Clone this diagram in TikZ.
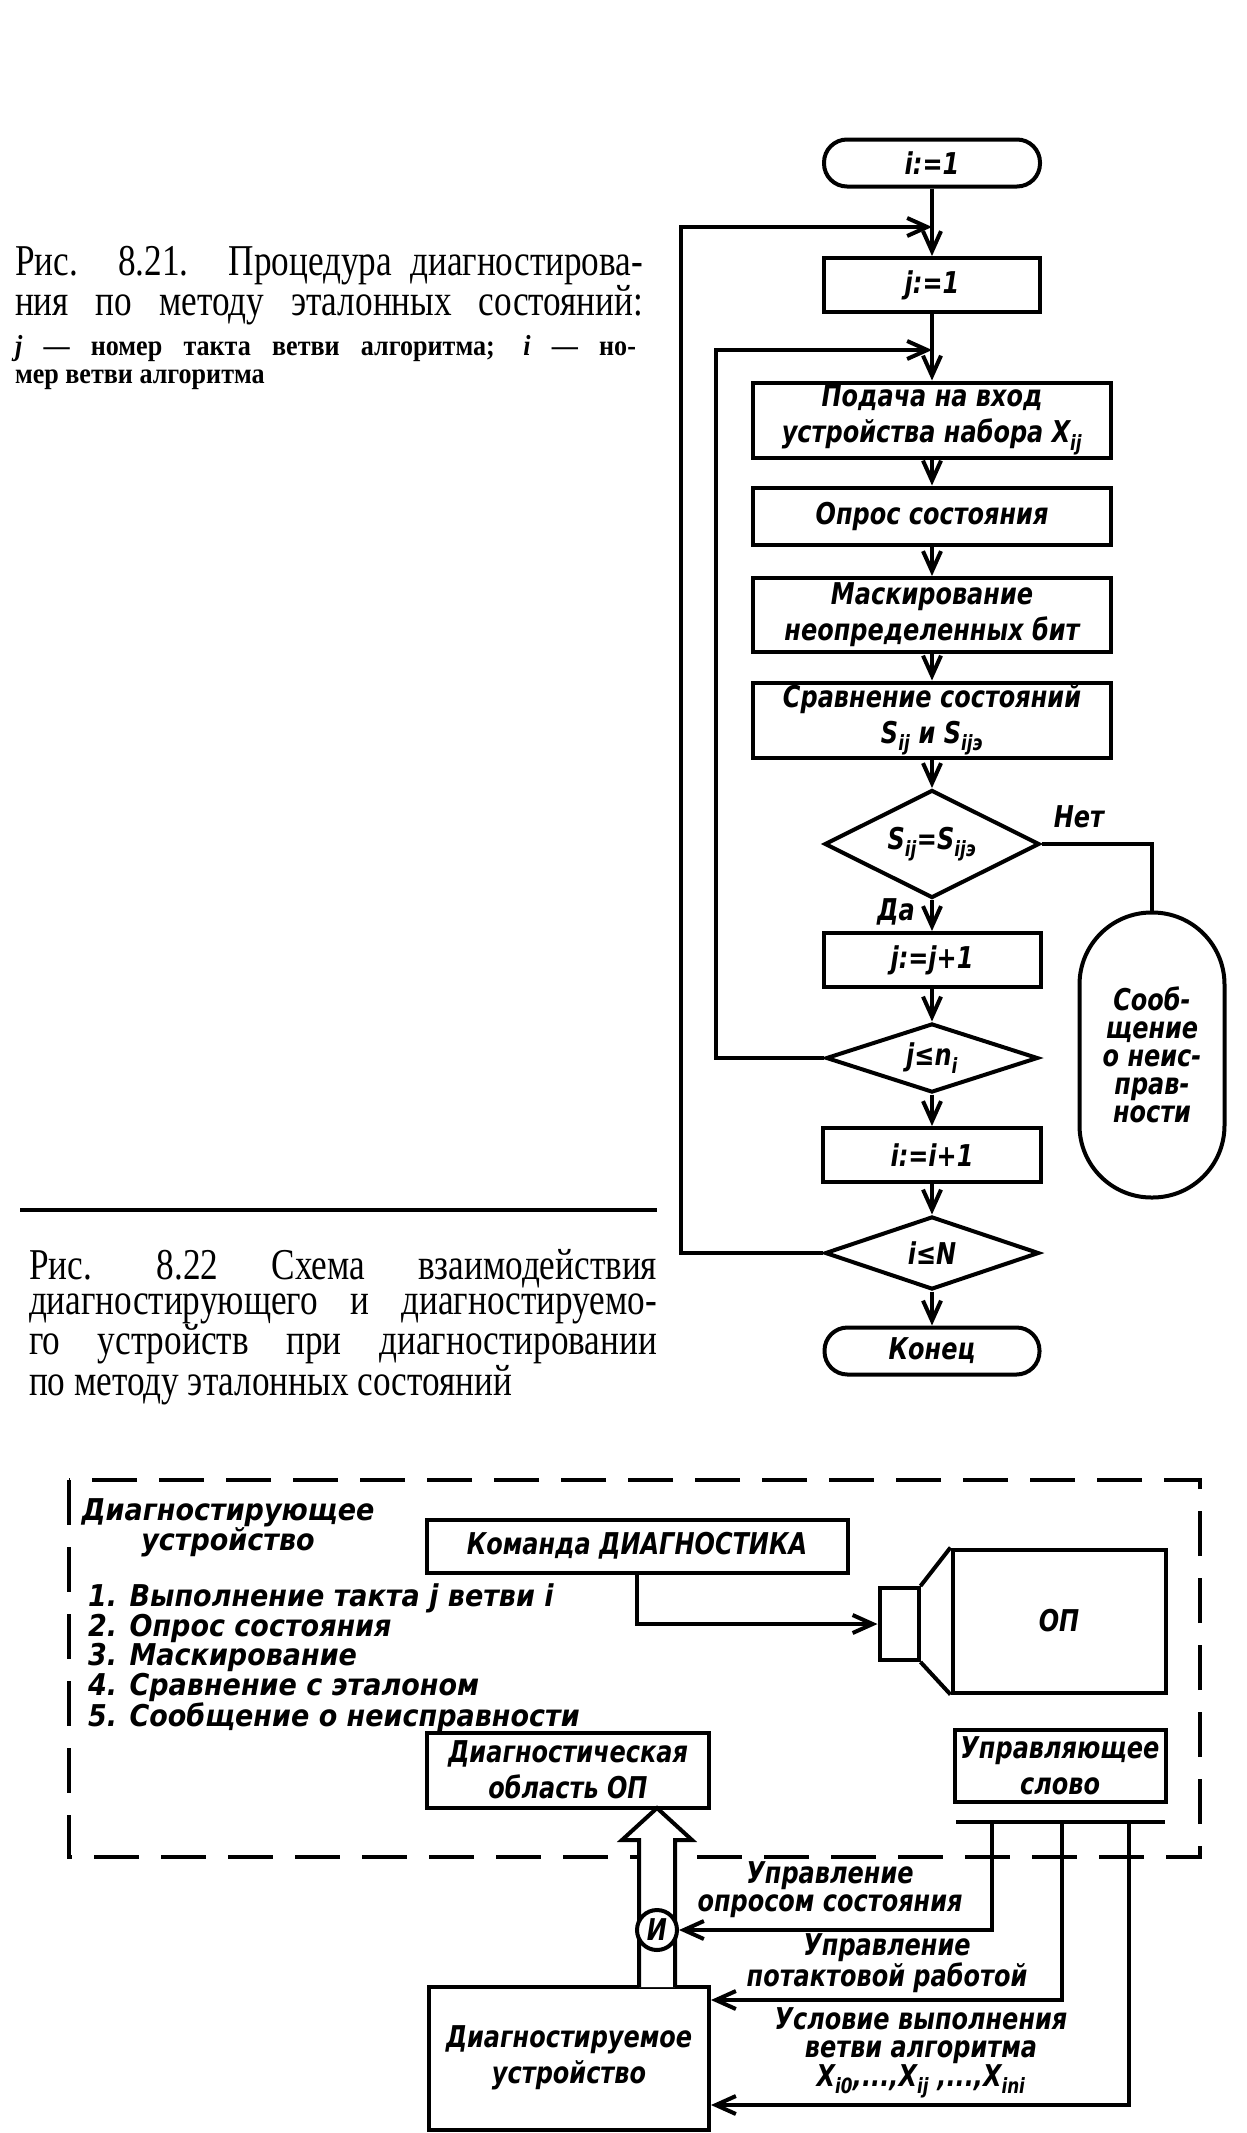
\documentclass[tikz,border=0pt]{standalone}
\usepackage{fontspec}
\usetikzlibrary{arrows.meta,shapes.geometric,positioning,calc}
\newfontfamily\gost{DejaVu Sans}[FakeStretch=0.8]
\newfontfamily\gostwide{DejaVu Sans}[FakeStretch=0.9]
\newfontfamily\capfont{Liberation Serif}[FakeStretch=0.8]
\newfontfamily\capbold{Liberation Serif}[FakeStretch=0.9]
\newcommand{\lo}[1]{\textsubscript{#1}}
\newcommand{\fullline}[1]{\makebox[628pt][s]{#1}}

\begin{document}
\begin{tikzpicture}[x=1pt,y=-1pt,line width=4pt,
        >={Straight Barb[length=20pt,width=18pt]},
        txt/.style={font=\gost\bfseries\itshape\fontsize{30}{36}\selectfont,align=center,inner sep=0pt},
        tight/.style={font=\gost\bfseries\itshape\fontsize{30}{28}\selectfont},
        wide/.style={font=\gostwide\bfseries\itshape\fontsize{30}{29.5}\selectfont},
        blk/.style={draw,rectangle,txt},
        term/.style={blk,rounded corners=23pt},
        cond/.style={draw,diamond,aspect=2,txt},
        capline/.style={font=\capfont\fontsize{44}{35}\selectfont,align=left,anchor=north west,inner sep=0pt},
        capsmall/.style={font=\capbold\bfseries\fontsize{29}{28}\selectfont,align=left,anchor=north west,inner sep=0pt}]
        \useasboundingbox (0,0) rectangle (1247,2133);

        \node[capline] (cap21) at (13,244) {\fullline{Рис. 8.21. Процедура диагностирова-}\\
            \fullline{ния по методу эталонных состояний:}};
        \node[capsmall] (note21) at (13,333) {\makebox[621pt][s]{\textit{j} — номер такта ветви алгоритма; \textit{i} — но-}\\
            мер ветви алгоритма};

        \node[term,minimum width=216,minimum height=47] (i1) at (932,163) {i:=1};
        \node[blk,minimum width=216,minimum height=54] (j1) at (932,285) {j:=1};
        \node[blk,minimum width=358,minimum height=75] (feed) at (932,420) {Подача на вход\\устройства набора X\lo{ij}};
        \node[blk,minimum width=358,minimum height=57] (poll) at (932,516) {Опрос состояния};
        \node[blk,minimum width=358,minimum height=74] (mask) at (932,615) {Маскирование\\неопределенных бит};
        \node[blk,minimum width=358,minimum height=75] (cmp) at (932,720) {Сравнение состояний\\S\lo{ij} и S\lo{ijэ}};
        \node[cond,minimum width=215,minimum height=108] (eq) at (932,844) {S\lo{ij}=S\lo{ijэ}};
        \node[blk,minimum width=217,minimum height=54] (jinc) at (932,960) {j:=j+1};
        \node[cond,minimum width=212,minimum height=69] (jle) at (932,1058) {j≤n\lo{i}};
        \node[blk,minimum width=218,minimum height=54] (iinc) at (932,1155) {i:=i+1};
        \node[cond,minimum width=214,minimum height=73] (ile) at (932,1253) {i≤N};
        \node[term,minimum width=215,minimum height=47] (fin) at (932,1351) {Конец};
        \node[blk,tight,rounded corners=72pt,minimum width=145,minimum height=285] (msg) at (1152,1055) {Сооб-\\щение\\о неис-\\прав-\\ности};
        \node[txt] (no) at (1079,817) {Нет};
        \node[txt] (yes) at (896,912) {Да};
        \coordinate (oloop) at (932,227);
        \coordinate (iloop) at (932,350);

        \draw[->] (i1) -- (j1);
        \foreach \a/\b in {j1/feed,feed/poll,poll/mask,mask/cmp,cmp/eq,eq/jinc,jinc/jle,jle/iinc,iinc/ile,ile/fin}
            \draw[->] (\a) -- (\b);
        \draw[->] (ile.west) -- ++(-142,0) |- (oloop);
        \draw[->] (jle.west) -- ++(-108,0) |- (iloop);
        \draw (eq.east) -| (msg.north);

        \draw (20,1210) -- (657,1210);
        \node[capline] (cap22) at (27,1247) {\fullline{Рис. 8.22 \ Схема \ взаимодействия}\\
            \fullline{диагностирующего и диагностируемо-}\\
            \fullline{го устройств при диагностировании}\\
            по методу эталонных состояний};

        \draw[dash pattern=on 45pt off 22pt] (69,1480) rectangle (1200,1857);
        \node[wide,align=center,inner sep=0pt] (tester) at (228,1528) {Диагностирующее\\устройство};
        \node[wide,align=left,inner sep=0pt,anchor=north west] (steps) at (86,1582) {1. Выполнение такта j ветви i\\2. Опрос состояния\\3. Маскирование\\4. Сравнение с эталоном\\5. Сообщение о неисправности};
        \node[blk,minimum width=421,minimum height=53] (cmd) at (637,1546) {Команда ДИАГНОСТИКА};
        \node[draw,minimum width=39,minimum height=72,inner sep=0pt] (port) at (899,1624) {};
        \node[blk,minimum width=213,minimum height=143] (mem) at (1059,1621) {ОП};
        \draw (port.north east) -- (mem.north west) (port.south east) -- (mem.south west);
        \draw[->] (cmd.south) |- (port.west);

        \node[blk,minimum width=282,minimum height=75] (area) at (568,1770) {Диагностическая\\область ОП};
        \node[blk,minimum width=211,minimum height=72] (cword) at (1060,1766) {Управляющее\\слово};
        \node[blk,minimum width=280,minimum height=143] (dut) at (569,2058) {Диагностируемое\\устройство};
        \coordinate (busL) at (956,1822);
        \coordinate (busR) at (1165,1822);
        \coordinate (t1) at (992,1822);
        \coordinate (t2) at (1062,1822);
        \coordinate (t3) at (1129,1822);
        \draw (busL) -- (busR);

        \draw[fill=white] (639,1987) -- (639,1840) -- (622,1840) -- (657,1808) -- (692,1840) -- (675,1840) -- (675,1987);
        \node[draw,circle,fill=white,minimum size=40,txt] (andg) at (657,1930) {И};

        \draw[->] (t1) |- (andg.east);
        \draw[->] (t2) |- ([yshift=58pt]dut.east);
        \draw[->] (t3) |- ([yshift=-47pt]dut.east);
        \node[txt,tight] (l1) at (830,1890) {Управление\\опросом состояния};
        \node[txt,tight] (l2) at (887,1963) {Управление\\потактовой работой};
        \node[txt,tight] (l3) at (921,2053) {Условие выполнения\\ветви алгоритма\\X\lo{i0},...,X\lo{ij} ,...,X\lo{ini}};
    \end{tikzpicture}
\end{document}
